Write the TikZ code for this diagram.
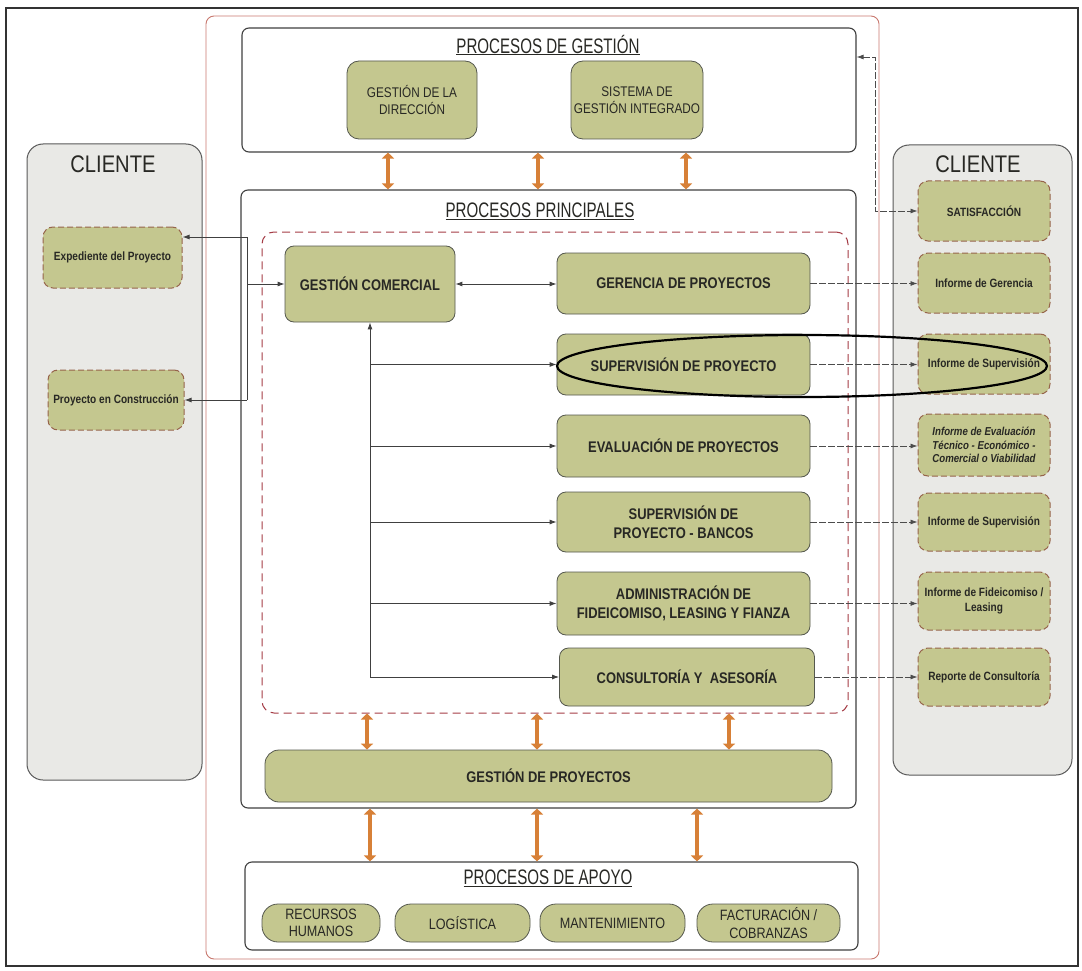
\documentclass[tikz,border=0pt]{standalone}
\usepackage{fontspec}
\setmainfont{Liberation Sans}[FakeStretch=0.84]
\newfontfamily\titulofont{Liberation Sans}[FakeStretch=0.72]
\usetikzlibrary{arrows.meta,positioning}

\definecolor{verde}{RGB}{196,199,143}
\definecolor{borde}{RGB}{85,88,78}
\definecolor{marron}{RGB}{150,100,75}
\definecolor{rojizo}{RGB}{165,60,70}
\definecolor{rosado}{RGB}{200,120,110}
\definecolor{naranja}{RGB}{215,128,55}
\definecolor{grisc}{RGB}{233,233,230}
\definecolor{tinta}{RGB}{40,40,36}

\tikzset{
  caja/.style={draw=black!75, line width=1.1pt, rounded corners=7pt, fill=white, inner sep=0pt},
  proc/.style={draw=borde, line width=0.8pt, rounded corners=9pt, fill=verde, align=center,
    font=\fontsize{15.4}{18.5}\selectfont\bfseries, text=tinta, inner sep=2pt},
  sec/.style={proc, font=\fontsize{14}{16.5}\selectfont},
  apo/.style={sec, font=\fontsize{15}{17.5}\selectfont, rounded corners=16pt, minimum height=38pt},
  doc/.style={draw=marron, dash pattern=on 6pt off 3pt, line width=1pt, rounded corners=10pt,
    fill=verde, align=center, font=\fontsize{12}{14.5}\selectfont\bfseries, text=tinta,
    minimum width=132pt, inner sep=1pt},
  cli/.style={draw=black!65, line width=1pt, rounded corners=16pt, fill=grisc, inner sep=0pt},
  titulo/.style={font=\titulofont\fontsize{21}{24}\selectfont, text=tinta},
  clitit/.style={font=\fontsize{24}{26}\selectfont, text=tinta},
  linea/.style={draw=black!75, line width=0.9pt, -{Latex[length=7pt,width=5pt]}},
  salida/.style={draw=black!70, line width=0.8pt, dash pattern=on 7pt off 2pt,
    -{Latex[length=7pt,width=5pt]}},
  flecha/.style={draw=naranja, line width=4.5pt,
    {Triangle[length=6pt,width=12pt]}-{Triangle[length=6pt,width=12pt]}}
}

\begin{document}
\begin{tikzpicture}[x=1pt,y=-1pt]
\useasboundingbox (0,0) rectangle (1082,971);
\draw[black!80, line width=1.2pt] (6,8) rectangle (1078,966);
\draw[rosado, line width=0.9pt, rounded corners=8pt] (206,16) rectangle (879,959);

% clientes
\node[cli, minimum width=175pt, minimum height=636pt] (cliI) at (114.5,462) {};
\node[cli, minimum width=179pt, minimum height=630pt] (cliD) at (982.5,460) {};
\node[clitit] at (113,164) {CLIENTE};
\node[clitit] at (978,164) {CLIENTE};

% contenedores
\node[caja, minimum width=614pt, minimum height=124pt] (gest) at (549,90) {};
\node[caja, minimum width=615pt, minimum height=618pt] (princ) at (548.5,499) {};
\node[caja, minimum width=613pt, minimum height=88pt] (apoyo) at (551.5,906) {};
\node[draw=rojizo, line width=1pt, dash pattern=on 8pt off 5pt, rounded corners=12pt,
  minimum width=586pt, minimum height=481pt] (zona) at (555,472.5) {};

\node[titulo] at (548,45) {\underline{PROCESOS DE GESTIÓN}};
\node[titulo] at (540,211) {\underline{PROCESOS PRINCIPALES}};
\node[titulo] at (548,878) {\underline{PROCESOS DE APOYO}};

% gestion
\node[sec, minimum width=130pt, minimum height=78pt, rounded corners=12pt] (dir) at (412,100) {GESTIÓN DE LA\\DIRECCIÓN};
\node[sec, minimum width=132pt, minimum height=78pt, rounded corners=12pt] (sgi) at (637,100) {SISTEMA DE\\GESTIÓN INTEGRADO};

% principales
\node[proc, minimum width=170pt, minimum height=76pt] (com) at (370,284) {GESTIÓN COMERCIAL};
\node[proc, minimum width=253pt, minimum height=61pt] (ger) at (683.5,283.5) {GERENCIA DE PROYECTOS};
\node[proc, minimum width=253pt, minimum height=61pt] (sup) at (683.5,364.5) {SUPERVISIÓN DE PROYECTO};
\node[proc, minimum width=253pt, minimum height=62pt] (eva) at (683.5,446) {EVALUACIÓN DE PROYECTOS};
\node[proc, minimum width=253pt, minimum height=60pt] (ban) at (683.5,522) {SUPERVISIÓN DE\\PROYECTO - BANCOS};
\node[proc, minimum width=253pt, minimum height=63pt] (adm) at (683.5,603.5) {ADMINISTRACIÓN DE\\FIDEICOMISO, LEASING Y FIANZA};
\node[proc, minimum width=255pt, minimum height=58pt] (con) at (687,677) {CONSULTORÍA Y \ ASESORÍA};
\node[proc, minimum width=567pt, minimum height=52pt, rounded corners=14pt] (gp) at (548.5,776) {GESTIÓN DE PROYECTOS};

% apoyo
\node[apo, minimum width=118pt] (rh) at (321,923) {RECURSOS\\HUMANOS};
\node[apo, minimum width=135pt] (log) at (462.5,923) {LOGÍSTICA};
\node[apo, minimum width=145pt] (man) at (612.5,923) {MANTENIMIENTO};
\node[apo, minimum width=143pt] (fac) at (768.5,923) {FACTURACIÓN /\\COBRANZAS};

% documentos del cliente
\node[doc, minimum width=139pt, minimum height=61pt] (exp) at (112.5,257.5) {Expediente del Proyecto};
\node[doc, minimum width=136pt, minimum height=60pt] (cons) at (116,400) {Proyecto en Construcción};
\node[doc, minimum height=60pt] (sat) at (984,211) {SATISFACCIÓN};
\node[doc, minimum height=60pt] (iger) at (984,283) {Informe de Gerencia};
\node[doc, minimum height=60pt] (isup) at (984,364) {Informe de Supervisión};
\node[doc, minimum height=62pt, font=\fontsize{11.5}{13.5}\selectfont\bfseries\itshape] (ieva) at (984,445) {Informe de Evaluación\\Técnico - Económico -\\Comercial o Viabilidad};
\node[doc, minimum height=58pt] (iban) at (984,522) {Informe de Supervisión};
\node[doc, minimum height=58pt] (ifid) at (984,601) {Informe de Fideicomiso /\\Leasing};
\node[doc, minimum height=58pt] (icon) at (984,677) {Reporte de Consultoría};

% flechas naranja
\foreach \x in {388,538,686}
  \draw[flecha] (gest.south -| \x,0) -- (princ.north -| \x,0);
\foreach \x in {367,537,729}
  \draw[flecha] (zona.south -| \x,0) -- (gp.north -| \x,0);
\foreach \x in {370,537,697}
  \draw[flecha] (princ.south -| \x,0) -- (apoyo.north -| \x,0);

% entradas y salidas
\coordinate (t1) at (247,237);
\coordinate (t2) at (247,400);
\draw[linea, -] (t1) -- (t2);
\draw[linea] (t1) -- (t1 -| exp.east);
\draw[linea] (t2) -- (cons.east);
\draw[linea] (t1 |- com.west) -- (com.west);

\draw[linea, {Latex[length=7pt,width=5pt]}-{Latex[length=7pt,width=5pt]}] (com.east) -- (com.east -| ger.west);
\draw[linea] (com.south |- con.west) -- (com.south);
\draw[linea] (com.south |- con.west) -- (con.west);
\foreach \n in {sup,eva,ban,adm}
  \draw[linea] (com.south |- \n.west) -- (\n.west);

\coordinate (sr) at (875,57);
\draw[salida, {Latex[length=7pt,width=5pt]}-{Latex[length=7pt,width=5pt]}] (gest.east |- sr) -- (sr) |- (sat.west);
\draw[salida] (ger.east) -- (ger.east -| iger.west);
\draw[salida] (sup.east) -- (sup.east -| isup.west);
\draw[salida] (eva.east) -- (eva.east -| ieva.west);
\draw[salida] (ban.east) -- (ban.east -| iban.west);
\draw[salida] (adm.east) -- (adm.east -| ifid.west);
\draw[salida] (con.east) -- (con.east -| icon.west);

% resaltado
\draw[black, line width=2.2pt] (802,366) ellipse [x radius=245pt, y radius=31pt];
\end{tikzpicture}
\end{document}
